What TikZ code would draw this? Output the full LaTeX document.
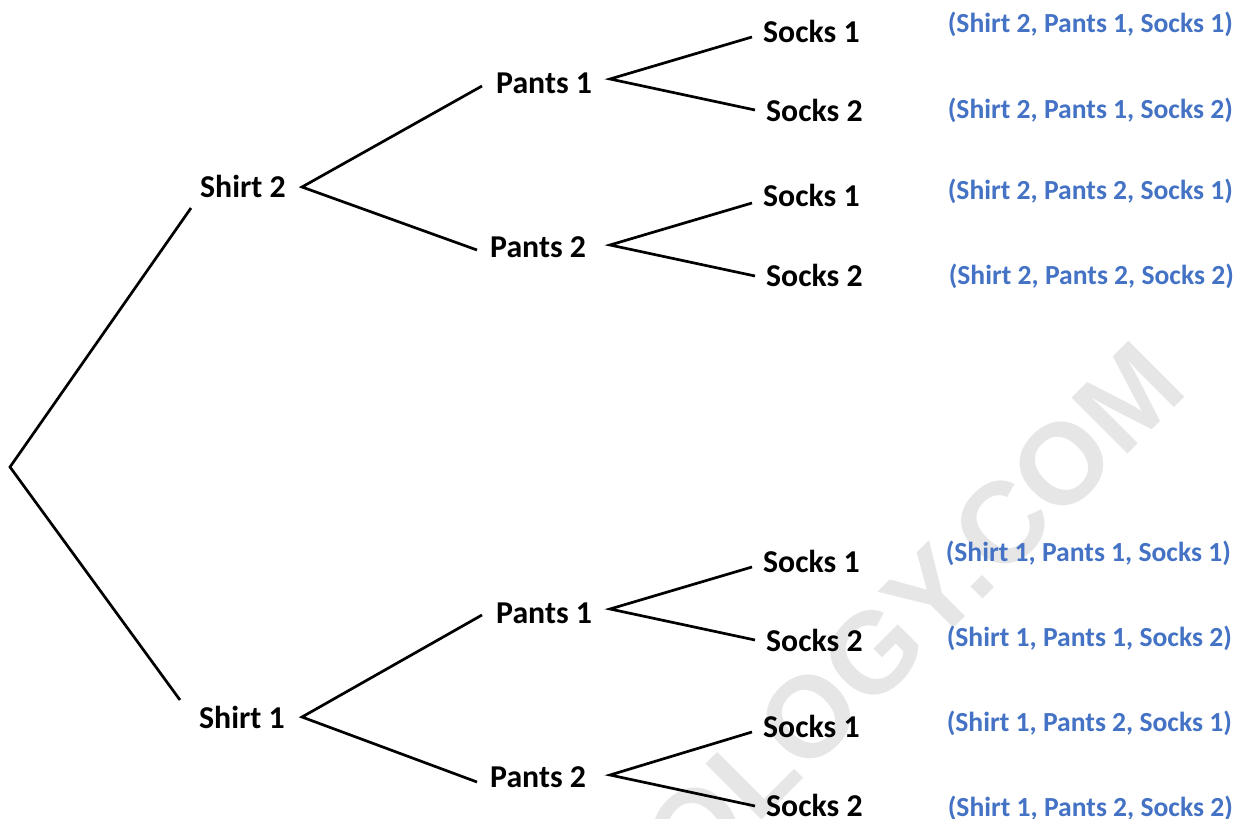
\documentclass[tikz,border=0pt]{standalone}
\usepackage{fontspec}
\setmainfont{Carlito}
\newfontfamily\wmfont{Liberation Sans}
\definecolor{offblue}{HTML}{4472C4}
\definecolor{wmgray}{HTML}{E6E6E6}
\tikzset{
  branch/.style={line width=2.7pt, black},
  lbl/.style={inner sep=0pt, anchor=base west, font=\fontsize{31.8}{36}\selectfont\bfseries},
  outcome/.style={inner sep=0pt, anchor=base east, text=offblue, font=\fontsize{27.6}{32}\selectfont\bfseries},
  wmark/.style={inner sep=0pt, anchor=base east, rotate=45, text=wmgray, font=\wmfont\fontsize{115}{120}\selectfont\bfseries}
}
\begin{document}
\begin{tikzpicture}[x=1pt,y=-1pt]
\useasboundingbox[fill=white] (0,0) rectangle (1243,819);
\begin{scope}
\clip (0,0) rectangle (1243,819);
\node[wmark] (wm) at (1190,392) {OLOGY.COM};
\end{scope}

% labels
\node[lbl] (shirt2) at (200,197) {Shirt 2};
\node[lbl] (shirt1) at (199,728) {Shirt 1};
\node[lbl] (p21) at (496,93) {Pants 1};
\node[lbl] (p22) at (490,257) {Pants 2};
\node[lbl] (p11) at (496,623) {Pants 1};
\node[lbl] (p12) at (490,787) {Pants 2};
\node[lbl] (s211) at (763,42) {Socks 1};
\node[lbl] (s212) at (766,121) {Socks 2};
\node[lbl] (s221) at (763,206) {Socks 1};
\node[lbl] (s222) at (766,286) {Socks 2};
\node[lbl] (s111) at (763,572) {Socks 1};
\node[lbl] (s112) at (766,651) {Socks 2};
\node[lbl] (s121) at (763,737) {Socks 1};
\node[lbl] (s122) at (766,816) {Socks 2};

\node[outcome] (o211) at (1233,32) {(Shirt 2, Pants 1, Socks 1)};
\node[outcome] (o212) at (1233,118) {(Shirt 2, Pants 1, Socks 2)};
\node[outcome] (o221) at (1233,199) {(Shirt 2, Pants 2, Socks 1)};
\node[outcome] (o222) at (1234,284) {(Shirt 2, Pants 2, Socks 2)};
\node[outcome] (o111) at (1231,561) {(Shirt 1, Pants 1, Socks 1)};
\node[outcome] (o112) at (1232,646) {(Shirt 1, Pants 1, Socks 2)};
\node[outcome] (o121) at (1232,731) {(Shirt 1, Pants 2, Socks 1)};
\node[outcome] (o122) at (1233,816) {(Shirt 1, Pants 2, Socks 2)};

% connector end points
\coordinate (root) at (10,467);
\coordinate (shirt2in) at (191,208);
\coordinate (shirt1in) at (180,700);
\coordinate (shirt2out) at (302,187);
\coordinate (shirt1out) at (302,717);
\coordinate (p21in) at (482,86);
\coordinate (p22in) at (477,250);
\coordinate (p11in) at (482,615);
\coordinate (p12in) at (477,782);
\coordinate (p21out) at (610,79);
\coordinate (p22out) at (610,245);
\coordinate (p11out) at (610,609);
\coordinate (p12out) at (610,775);
\coordinate (s211in) at (752,37);
\coordinate (s212in) at (755,110);
\coordinate (s221in) at (752,203);
\coordinate (s222in) at (755,276);
\coordinate (s111in) at (752,567);
\coordinate (s112in) at (755,640);
\coordinate (s121in) at (752,732);
\coordinate (s122in) at (755,806);

\draw[branch] (shirt2in) -- (root) -- (shirt1in);
\draw[branch] (p21in) -- (shirt2out) -- (p22in);
\draw[branch] (p11in) -- (shirt1out) -- (p12in);
\draw[branch] (s211in) -- (p21out) -- (s212in);
\draw[branch] (s221in) -- (p22out) -- (s222in);
\draw[branch] (s111in) -- (p11out) -- (s112in);
\draw[branch] (s121in) -- (p12out) -- (s122in);
\end{tikzpicture}
\end{document}
